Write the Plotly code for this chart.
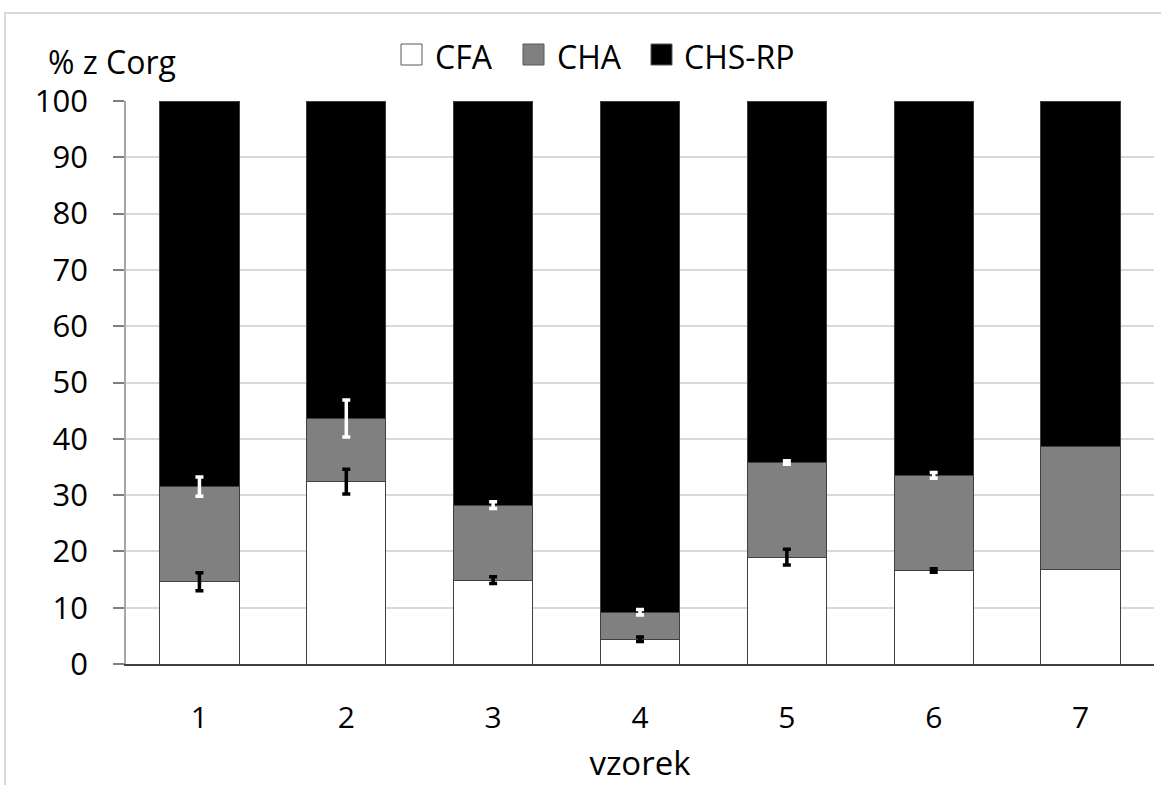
import plotly.graph_objects as go

samples = [1, 2, 3, 4, 5, 6, 7]
tick_labels = ["1", "2", "3", "4", "5", "6", "7"]
cfa = [14.6, 32.4, 14.9, 4.4, 19.0, 16.6, 16.7]
cha = [16.9, 11.2, 13.3, 4.8, 16.8, 16.9, 22.0]
chs_rp = [round(100 - a - b, 1) for a, b in zip(cfa, cha)]
cfa_err = [1.6, 2.2, 0.6, 0.4, 1.4, 0.3, 0.0]
cha_err = [1.7, 3.3, 0.6, 0.5, 0.3, 0.5, 0.0]
series_names = ["CFA", "CHA", "CHS-RP"]
series_colors = ["white", "#808080", "black"]

FONT = "Open Sans"
line_col = "#404040"
W, H = 1161, 785
ML, MR, MT, MB = 126, 7, 101, 121
PW, PH = W - ML - MR, H - MT - MB


def px_x(px):
    return (px - ML) / PW


def px_y(py):
    return (H - MB - py) / PH


fig = go.Figure()
for name, vals, col in zip(series_names, [cfa, cha, chs_rp], series_colors):
    fig.add_trace(go.Bar(x=samples, y=vals, name=name, showlegend=False,
                         marker=dict(color=col, line=dict(color=line_col, width=1))))

cum_cha = [a + b for a, b in zip(cfa, cha)]
fig.add_trace(go.Scatter(
    x=[s for s, e in zip(samples, cfa_err) if e > 0],
    y=[v for v, e in zip(cfa, cfa_err) if e > 0],
    mode="markers", marker=dict(size=0.1, color="rgba(0,0,0,0)"), showlegend=False, hoverinfo="skip",
    error_y=dict(type="data", array=[e for e in cfa_err if e > 0], color="black", thickness=3.5, width=4)))
fig.add_trace(go.Scatter(
    x=[s for s, e in zip(samples, cha_err) if e > 0],
    y=[v for v, e in zip(cum_cha, cha_err) if e > 0],
    mode="markers", marker=dict(size=0.1, color="rgba(0,0,0,0)"), showlegend=False, hoverinfo="skip",
    error_y=dict(type="data", array=[e for e in cha_err if e > 0], color="white", thickness=3.5, width=4)))

# custom legend (large square swatches)
legend_sq_left = [401, 523, 651]
legend_txt_left = [435, 557, 684]
shapes = [dict(type="rect", xref="paper", yref="paper", x0=-0.1177, x1=1.2, y0=-0.5, y1=px_y(13),
               line=dict(color="#d9d9d9", width=2), fillcolor="rgba(0,0,0,0)", layer="below")]
annotations = [dict(text="% z Corg", xref="paper", yref="paper", x=px_x(46), y=px_y(61),
                    xanchor="left", yanchor="middle", showarrow=False, font=dict(size=32))]
for name, col, sx, tx in zip(series_names, series_colors, legend_sq_left, legend_txt_left):
    shapes.append(dict(type="rect", xref="paper", yref="paper", x0=px_x(sx), x1=px_x(sx + 21),
                       y0=px_y(65), y1=px_y(44), fillcolor=col, line=dict(color="#595959", width=1)))
    annotations.append(dict(text=name, xref="paper", yref="paper", x=px_x(tx - 2), y=px_y(56),
                            xanchor="left", yanchor="middle", showarrow=False, font=dict(size=32)))

fig.update_layout(
    barmode="stack",
    bargap=0.46,
    width=W, height=H,
    margin=dict(l=ML, r=MR, t=MT, b=MB),
    paper_bgcolor="white", plot_bgcolor="white",
    font=dict(family=FONT, size=31, color="black"),
    showlegend=False,
    xaxis=dict(tickmode="array", tickvals=samples, ticktext=tick_labels, range=[0.5, 7.5],
               showgrid=False, showline=True, linecolor="#404040", linewidth=1.5,
               ticks="", ticklabelstandoff=26, tickfont=dict(size=30), automargin=False,
               title=dict(text="vzorek", standoff=23, font=dict(size=33))),
    yaxis=dict(range=[0, 100], tickvals=list(range(0, 101, 10)), showgrid=True,
               gridcolor="#d9d9d9", gridwidth=1.5, zeroline=False, showline=True,
               linecolor="#a6a6a6", linewidth=1.5, automargin=False,
               ticks="outside", ticklen=11, tickcolor="#7f7f7f", tickwidth=1.5,
               ticklabelstandoff=19, tickfont=dict(size=31)),
    annotations=annotations,
    shapes=shapes,
)

fig.write_html("out.html", config={"displayModeBar": False},
               post_script="document.body.style.margin='0';")
